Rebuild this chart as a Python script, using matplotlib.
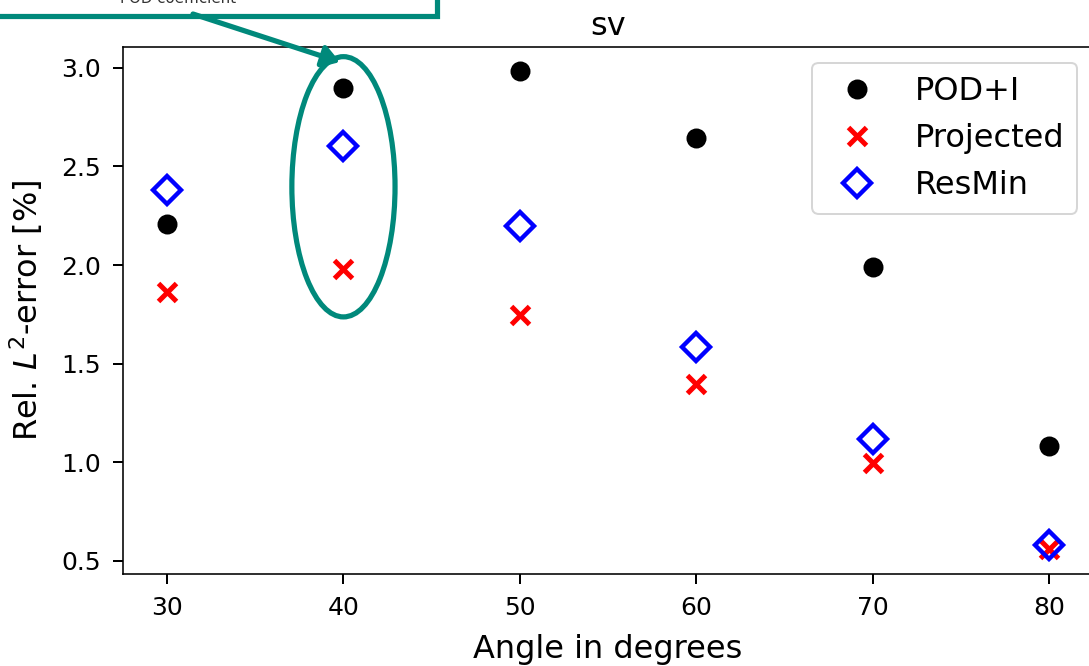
import matplotlib
matplotlib.use("Agg")
import matplotlib.pyplot as plt
from matplotlib.patches import Ellipse, Rectangle, FancyArrowPatch

angles = [30, 40, 50, 60, 70, 80]
pod_i = [2.21, 2.90, 2.985, 2.645, 1.99, 1.08]
projected = [1.865, 1.98, 1.745, 1.395, 0.995, 0.56]
resmin = [2.38, 2.605, 2.20, 1.585, 1.12, 0.58]
series_labels = ["POD+I", "Projected", "ResMin"]
title = "sv"
xlabel = "Angle in degrees"
ylabel = r"Rel. $L^2$-error [%]"
annot_text = "POD coefficient"

teal = "#00897b"
W, H, DPI = 1089, 666, 144
fig = plt.figure(figsize=(W / DPI, H / DPI), dpi=DPI)
ax = fig.add_axes([123 / W, 1 - 574 / H, (1093 - 123) / W, (574 - 47) / H])

ax.plot(angles, pod_i, linestyle="none", marker="o", color="black", markersize=9, label=series_labels[0])
ax.plot(angles, projected, linestyle="none", marker="x", color="red", markersize=9, markeredgewidth=2.5, label=series_labels[1])
ax.plot(angles, resmin, linestyle="none", marker="D", markerfacecolor="none", markeredgecolor="blue",
        markersize=10, markeredgewidth=2.2, label=series_labels[2])

ax.set_xlim(27.5, 82.5)
ax.set_ylim(0.433, 3.106)
ax.set_xticks(angles)
ax.set_yticks([0.5, 1.0, 1.5, 2.0, 2.5, 3.0])
ax.tick_params(labelsize=12.5, length=5, width=1, pad=6)
ax.set_xlabel(xlabel, fontsize=16, labelpad=7)
ax.set_ylabel(ylabel, fontsize=16, labelpad=8)
ax.set_title(title, fontsize=16)
ax.legend(loc="upper right", fontsize=16)

# Ellipse highlighting the 40 degree column
ell = Ellipse((40, 2.397), width=5.85, height=1.32, fill=False, edgecolor=teal, linewidth=2.6, zorder=5)
ax.add_patch(ell)

# Annotation box (cut off at top of figure)
box = Rectangle((-20 / W, 1 - 16 / H), (437 + 20) / W, 60 / H, transform=fig.transFigure,
                fill=False, edgecolor=teal, linewidth=2.6)
fig.add_artist(box)
fig.text(178 / W, 1 - 3 / H, annot_text, ha="center", va="baseline", fontsize=7.5, color="#333333")

arrow = FancyArrowPatch((193 / W, 1 - 14 / H), (340 / W, 1 - 62 / H), transform=fig.transFigure,
                        arrowstyle="-|>,head_length=7,head_width=4.5", color=teal, linewidth=2.6,
                        shrinkA=0, shrinkB=0)
fig.add_artist(arrow)

fig.savefig("out.png", dpi=DPI)
